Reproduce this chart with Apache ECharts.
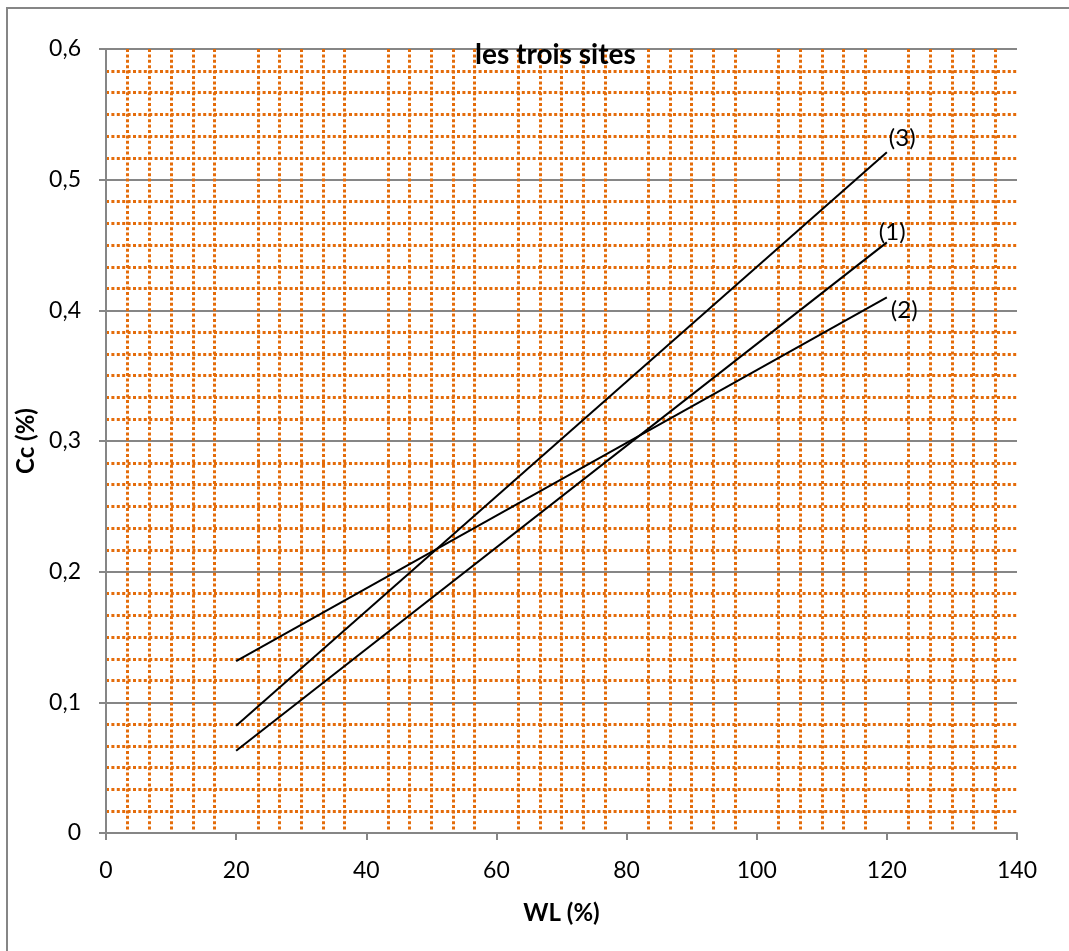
<!DOCTYPE html>
<html>
<head>
<meta charset="utf-8">
<script src="https://cdn.jsdelivr.net/npm/echarts@6/dist/echarts.min.js"></script>
<style>
html,body{margin:0;padding:0;background:#fff;}
#chart{width:1069px;height:951px;}
</style>
</head>
<body>
<div id="chart"></div>
<script>
// ---- data ----
const titleText = 'les trois sites';
const xName = 'WL (%)';
const yName = 'Cc (%)';
const wl = [20, 120];
const site1 = [0.063, 0.452];
const site2 = [0.1315, 0.410];
const site3 = [0.082, 0.521];
const seriesNames = ['(1)', '(2)', '(3)'];
const xTickLabels = ['0', '20', '40', '60', '80', '100', '120', '140'];
const yTickLabels = ['0', '0,1', '0,2', '0,3', '0,4', '0,5', '0,6'];

const FONT = 'Lato';
const GRAY = '#868686';
const ORANGE = '#E46C0A';

function pairs(xs, ys) { return xs.map((x, i) => [x, ys[i]]); }

const chart = echarts.init(document.getElementById('chart'), null, {renderer: 'canvas'});

function lineSeries(name, values, offset) {
  return {
    name: name,
    type: 'line',
    data: pairs(wl, values),
    showSymbol: false,
    symbol: 'none',
    lineStyle: {color: '#000', width: 2},
    itemStyle: {color: '#000'},
    endLabel: {
      show: true,
      formatter: name,
      distance: 0,
      offset: offset,
      fontFamily: FONT,
      fontSize: 24,
      color: '#000'
    },
    emphasis: {disabled: true},
    z: 5
  };
}

const option = {
  animation: false,
  backgroundColor: '#fff',
  title: {
    text: titleText,
    left: 470,
    top: 35,
    textStyle: {fontFamily: FONT, fontWeight: 'bold', fontSize: 28, color: '#000', lineHeight: 30},
    z: 10
  },
  grid: {left: 106, top: 49, right: 52, bottom: 118, containLabel: false},
  graphic: [{
    type: 'rect',
    shape: {x: 7, y: 8, width: 1100, height: 1000},
    style: {fill: 'none', stroke: GRAY, lineWidth: 2},
    silent: true,
    z: 0
  }],
  xAxis: {
    type: 'value',
    min: 0, max: 140, interval: 20,
    name: xName,
    nameLocation: 'middle',
    nameGap: 68,
    nameTextStyle: {fontFamily: FONT, fontWeight: 'bold', fontSize: 24, color: '#000'},
    axisLine: {show: true, onZero: false, lineStyle: {color: GRAY, width: 2}},
    axisTick: {show: true, inside: false, length: 7, lineStyle: {color: GRAY, width: 2}},
    axisLabel: {
      margin: 26, fontFamily: FONT, fontSize: 23, color: '#000',
      formatter: (v, i) => xTickLabels[Math.round(v / 20)]
    },
    splitLine: {show: false},
    minorTick: {show: false, splitNumber: 6},
    minorSplitLine: {show: true, lineStyle: {color: ORANGE, width: 3, type: [3, 2.4]}}
  },
  yAxis: {
    type: 'value',
    min: 0, max: 0.6, interval: 0.1,
    name: yName,
    nameLocation: 'middle',
    nameGap: 66,
    nameTextStyle: {fontFamily: FONT, fontWeight: 'bold', fontSize: 24, color: '#000'},
    axisLine: {show: true, onZero: false, lineStyle: {color: GRAY, width: 2}},
    axisTick: {show: true, inside: false, length: 7, lineStyle: {color: GRAY, width: 2}},
    axisLabel: {
      margin: 25, fontFamily: FONT, fontSize: 23, color: '#000',
      formatter: (v, i) => yTickLabels[Math.round(v * 10)]
    },
    splitLine: {show: true, lineStyle: {color: GRAY, width: 2}},
    minorTick: {show: false, splitNumber: 6},
    minorSplitLine: {show: true, lineStyle: {color: ORANGE, width: 3, type: [3, 2.4]}}
  },
  series: [
    lineSeries(seriesNames[2], site3, [2, -14]),
    lineSeries(seriesNames[0], site1, [-8, -10]),
    lineSeries(seriesNames[1], site2, [4, 13])
  ]
};
chart.setOption(option);
</script>
</body>
</html>
